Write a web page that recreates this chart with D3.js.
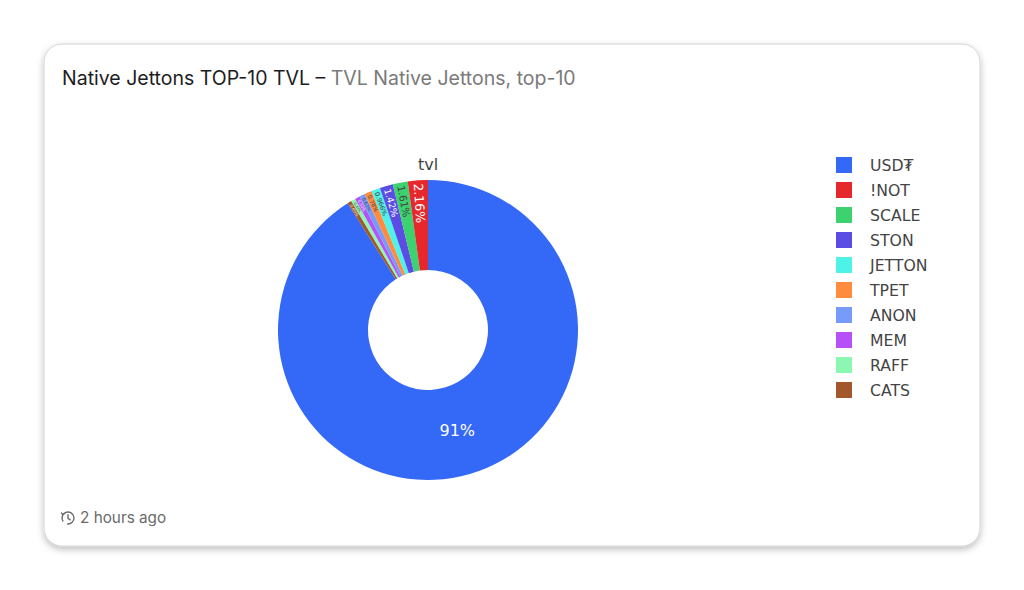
<!DOCTYPE html>
<html>
<head>
<meta charset="utf-8">
<script src="https://cdn.jsdelivr.net/npm/d3@7"></script>
<style>
  body { margin: 0; background: #fff; }
</style>
</head>
<body>
<div id="chart"></div>
<script>
// data (share of TVL, %)
var tokens = ["USD₮", "!NOT", "SCALE", "STON", "JETTON", "TPET", "ANON", "MEM", "RAFF", "CATS"];
var tvl = [91.0, 2.16, 1.61, 1.42, 0.966, 0.78, 0.62, 0.52, 0.47, 0.454];
var colors = ["#3468f7", "#e6282c", "#3bd26f", "#5b4ce3", "#4ff2e7", "#ff8b3f", "#779bf8", "#b551f6", "#8cf6b3", "#a2582b"];

var W = 1024, H = 590;
var svg = d3.select("#chart").append("svg")
  .attr("width", W)
  .attr("height", H);

// card + shadow
var defs = svg.append("defs");
var f = defs.append("filter").attr("id", "shadow")
  .attr("x", "-5%").attr("y", "-5%").attr("width", "110%").attr("height", "115%");
f.append("feDropShadow")
  .attr("dx", 0).attr("dy", 3).attr("stdDeviation", 3.5)
  .attr("flood-color", "#000").attr("flood-opacity", 0.25);

svg.append("rect")
  .attr("x", 44).attr("y", 44)
  .attr("width", 936).attr("height", 502)
  .attr("rx", 18)
  .attr("fill", "#fff")
  .attr("stroke", "#d4d4d4")
  .attr("filter", "url(#shadow)");

// title
var title = svg.append("text")
  .attr("x", 62).attr("y", 85)
  .style("font-family", "Inter, 'Noto Sans', sans-serif")
  .style("font-size", "19.5px");
title.append("tspan").attr("fill", "#1d1d1f").text("Native Jettons TOP-10 TVL \u2013 ");
title.append("tspan").attr("fill", "#7a7a7a").text("TVL Native Jettons, top-10");

// pie
var cx = 428, cy = 330, rOut = 150, rIn = 60;
var g = svg.append("g").attr("transform", "translate(" + cx + "," + cy + ")");

var total = d3.sum(tvl);
var fmt = d3.format(".3~r");

// first slice runs clockwise from 12 o'clock, the rest follow in reverse order
var order = [0].concat(d3.range(tvl.length - 1, 0, -1));
var pie = d3.pie().sort(null).value(function(i) { return tvl[i]; });
var arcs = pie(order);
var arc = d3.arc().innerRadius(rIn).outerRadius(rOut);

g.selectAll("path.slice")
  .data(arcs)
  .enter().append("path")
  .attr("class", "slice")
  .attr("d", arc)
  .attr("fill", function(d) { return colors[d.data]; });

// labels
g.selectAll("text.lbl")
  .data(arcs)
  .enter().append("text")
  .attr("class", "lbl")
  .attr("text-anchor", "middle")
  .attr("dy", "0.35em")
  .style("font-family", "'DejaVu Sans', sans-serif")
  .attr("fill", function(d) {
    return d3.hcl(colors[d.data]).l > 60 ? "#444" : "#fff";
  })
  .text(function(d) { return fmt(tvl[d.data] / total * 100) + "%"; })
  .each(function(d) {
    var t = d3.select(this);
    var mid = (d.startAngle + d.endAngle) / 2;
    var span = d.endAngle - d.startAngle;
    if (span > Math.PI) {
      var c = arc.centroid(d);
      t.style("font-size", "16px").attr("x", c[0]).attr("y", c[1]);
      return;
    }
    t.style("font-size", "10px");
    var k = this.getComputedTextLength() / 10;
    var s = 0.9 * (rOut - 3) * span / (1 + k * span);
    s = Math.min(s, 14);
    t.style("font-size", s + "px");
    var len = k * s;
    var rc = rOut - 3 - len / 2;
    var x = rc * Math.sin(mid), y = -rc * Math.cos(mid);
    var a = Math.atan2(Math.cos(mid), -Math.sin(mid)) * 180 / Math.PI;
    t.attr("transform", "translate(" + x + "," + y + ") rotate(" + a + ")");
  });

svg.append("text")
  .attr("x", cx).attr("y", 170)
  .attr("text-anchor", "middle")
  .attr("fill", "#444")
  .style("font-family", "'DejaVu Sans', sans-serif")
  .style("font-size", "16px")
  .text("tvl");

// legend
var legend = svg.append("g").attr("transform", "translate(836,157)");
var item = legend.selectAll("g")
  .data(tokens)
  .enter().append("g")
  .attr("transform", function(d, i) { return "translate(0," + i * 25 + ")"; });
item.append("rect")
  .attr("width", 16).attr("height", 16)
  .attr("fill", function(d, i) { return colors[i]; });
item.append("text")
  .attr("x", 34).attr("y", 14)
  .attr("fill", "#444")
  .style("font-family", "'DejaVu Sans', sans-serif")
  .style("font-size", "15.7px")
  .text(function(d) { return d; });

// footer with history icon
var icon = svg.append("g")
  .attr("transform", "translate(68,518)")
  .attr("fill", "none")
  .attr("stroke", "#6b6b6b")
  .attr("stroke-width", 1.4)
  .attr("stroke-linecap", "round");
icon.append("path").attr("d", d3.arc()({innerRadius: 6, outerRadius: 6, startAngle: -2.2, endAngle: 3.3}));
icon.append("path").attr("d", "M-6.6,-5 L-5.1,-3.4 L-3.1,-4.8");
icon.append("path").attr("d", "M0,-3.2 L0,0.3 L2.2,1.8");

svg.append("text")
  .attr("x", 80).attr("y", 523)
  .attr("fill", "#6b6b6b")
  .style("font-family", "Inter, 'Noto Sans', sans-serif")
  .style("font-size", "15.3px")
  .text("2 hours ago");
</script>
</body>
</html>
